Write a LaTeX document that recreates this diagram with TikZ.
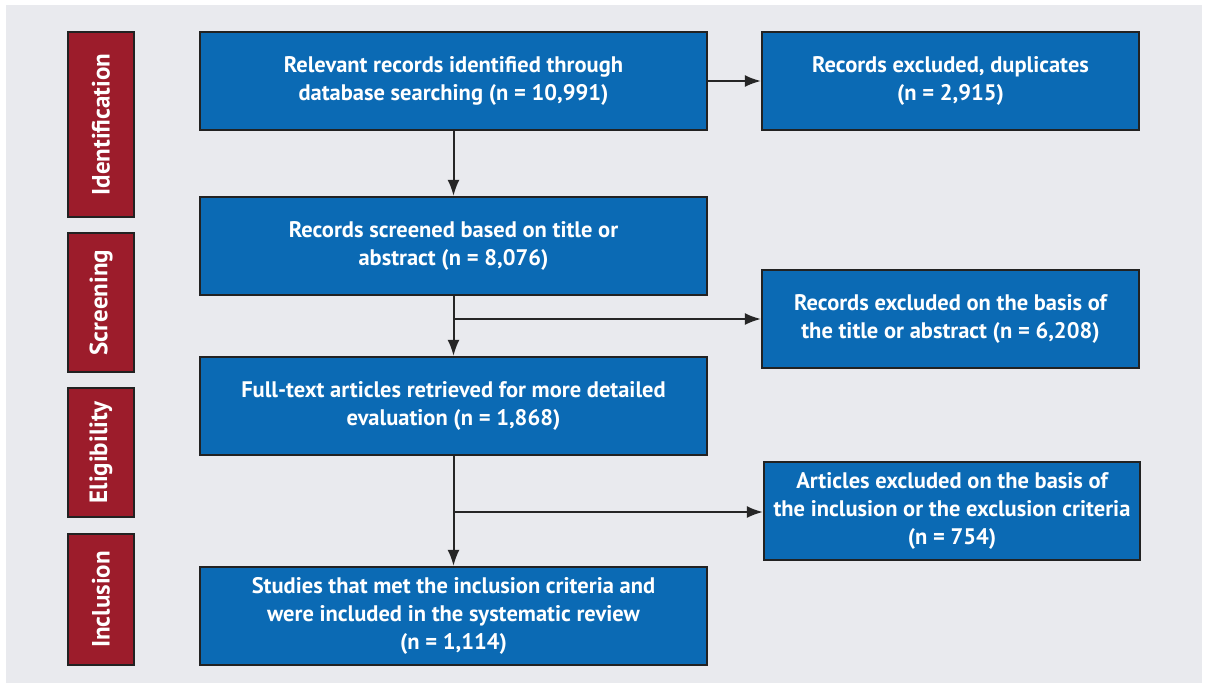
\documentclass[tikz,border=0pt]{standalone}
\usepackage{fontspec}
\setmainfont{PT Sans}
\usetikzlibrary{arrows.meta}
\definecolor{bg}{HTML}{E9EAEE}
\definecolor{boxblue}{HTML}{0B6AB4}
\definecolor{boxred}{HTML}{9C1C2B}
\definecolor{edge}{HTML}{222222}
\tikzset{
  flowbox/.style={draw=edge, line width=2.2pt, fill=boxblue, text=white, font=\bfseries\fontsize{22.5}{28}\selectfont, align=center, inner sep=0pt},
  mainbox/.style={flowbox, minimum width=507pt, minimum height=98pt},
  sidebox/.style={flowbox, minimum width=377pt, minimum height=98pt},
  stagebox/.style={draw=edge, line width=2.2pt, fill=boxred, minimum width=66pt, inner sep=0pt},
  stagelabel/.style={text=white, font=\bfseries\fontsize{25}{28}\selectfont, rotate=90},
  flowarrow/.style={draw=black!85, line width=2pt, -{Latex[length=16pt,width=12pt]}},
}
\begin{document}
\begin{tikzpicture}[x=1pt,y=-1pt]
\fill[white] (0,0) rectangle (1205,686);
\fill[bg] (6,5) rectangle (1202,683);
\useasboundingbox (0,0) rectangle (1205,686);

% stage boxes
\node[stagebox, minimum height=185pt] (sid) at (101,124.5) {};
\node[stagelabel] (lid) at (sid.center) {Identification};
\node[stagebox, minimum height=139pt] (ssc) at (101,302.5) {};
\node[stagelabel] (lsc) at (ssc.center) {Screening};
\node[stagebox, minimum height=129pt] (sel) at (101,452.5) {};
\node[stagelabel] (lel) at (sel.center) {Eligibility};
\node[stagebox, minimum height=131pt] (sin) at (101,599.5) {};
\node[stagelabel] (lin) at (sin.center) {Inclusion};

% main boxes
\node[mainbox] (b1) at (453.5,81) {Relevant records identified through\\database searching (n = 10,991)};
\node[mainbox] (b2) at (453.5,246) {Records screened based on title or\\abstract (n = 8,076)};
\node[mainbox] (b3) at (453.5,406) {Full-text articles retrieved for more detailed\\evaluation (n = 1,868)};
\node[mainbox] (b4) at (453.5,616) {Studies that met the inclusion criteria and\\were included in the systematic review\\(n = 1,114)};

% side boxes
\node[sidebox] (r1) at (950.5,81) {Records excluded, duplicates\\(n = 2,915)};
\node[sidebox] (r2) at (950.5,319) {Records excluded on the basis of\\the title or abstract (n = 6,208)};
\node[sidebox, minimum width=376pt] (r3) at (952,511) {Articles excluded on the basis of\\the inclusion or the exclusion criteria\\(n = 754)};

% branch points
\coordinate (j2) at (453.5,319);
\coordinate (j3) at (453.5,512);

% connectors
\draw[flowarrow] (b1.east) -- (r1.west);
\draw[flowarrow] (b1.south) -- (b2.north);
\draw[flowarrow] (b2.south) -- (b3.north);
\draw[flowarrow] (j2) -- (r2.west);
\draw[flowarrow] (b3.south) -- (b4.north);
\draw[flowarrow] (j3) -- (r3.west |- j3);
\end{tikzpicture}
\end{document}
